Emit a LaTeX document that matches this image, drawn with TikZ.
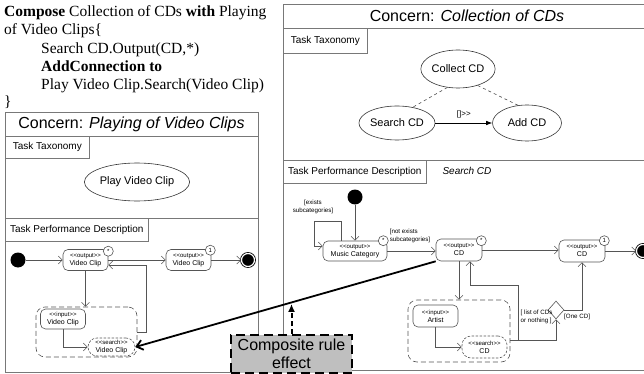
\documentclass[tikz,border=0pt]{standalone}
\usepackage{fontspec}
\setmainfont{Liberation Sans}
\newfontfamily\seriffam{Liberation Serif}
\usetikzlibrary{shapes.geometric,arrows.meta,calc}
\definecolor{framegray}{RGB}{120,120,120}
\definecolor{nodegray}{RGB}{85,85,85}
\newcommand{\stereo}[1]{{\fontsize{6}{6.5}\selectfont\textless\kern0pt\textless\kern0pt #1\kern0pt\textgreater\kern0pt\textgreater}}
\begin{document}
\begin{tikzpicture}[x=1pt,y=-1pt,
  frame/.style={draw=framegray, line width=0.7pt},
  tabbox/.style={draw=framegray, fill=white, line width=0.7pt, anchor=north west, inner sep=0pt, font=\fontsize{10}{12}\selectfont},
  act/.style={draw=nodegray, fill=white, rounded corners=5pt, minimum width=45pt, minimum height=21pt, inner sep=0pt, align=center, font=\fontsize{7}{8}\selectfont, line width=0.6pt},
  srch/.style={act, rounded corners=9pt, dash pattern=on 2.5pt off 1.5pt},
  grp/.style={draw=nodegray, dash pattern=on 5pt off 3pt, rounded corners=9pt, line width=0.6pt},
  badge/.style={circle, draw=nodegray, fill=white, minimum size=10pt, inner sep=0pt, font=\fontsize{6}{6}\selectfont, line width=0.6pt},
  flow/.style={draw=nodegray, line width=0.6pt, -{Straight Barb[length=4pt,width=8pt]}},
  initnode/.style={circle, fill=black, minimum size=15pt, inner sep=0pt},
  finalnode/.style={circle, draw=black, fill=black, minimum size=13pt, inner sep=0pt, line width=0.8pt, double=white, double distance=1.2pt},
  task/.style={ellipse, draw=black!80, line width=0.6pt, inner sep=0pt, font=\fontsize{11}{12}\selectfont},
  guard/.style={font=\fontsize{6.2}{7.5}\selectfont, inner sep=0pt, align=left},
  serifline/.style={anchor=base west, inner sep=0pt, font=\seriffam\fontsize{15.5}{18}\selectfont}
]
\useasboundingbox (0,0) rectangle (644,374);
\clip (0,0) rectangle (644,374);

% ---- top-left text
\node[serifline] (t1) at (4,17) {\textbf{Compose} Collection of CDs \textbf{with} Playing};
\node[serifline] (t2) at (4,35) {of Video Clips\{};
\node[serifline] (t3) at (41,54) {Search CD.Output(CD,*)};
\node[serifline] (t4) at (41,72) {\textbf{AddConnection to}};
\node[serifline] (t5) at (41,90) {Play Video Clip.Search(Video Clip)};
\node[serifline] (t6) at (4,107) {\}};

% ---- left frame
\draw[frame] (5,112) rectangle (258,372);
\draw[frame] (5,136) -- (258,136);
\draw[frame] (5,218) -- (258,218);
\node[font=\fontsize{16}{18}\selectfont] (lt) at (131.5,124) {Concern: \textit{Playing of Video Clips}};
\node[tabbox, minimum width=84pt, minimum height=22pt] (ltt) at (5,136) {Task Taxonomy};
\node[task, minimum width=95pt, minimum height=38pt] (pvc) at (137,182) {Play Video Clip};
\node[tabbox, minimum width=143pt, minimum height=23pt] (ltpd) at (5,218) {Task Performance Description};

\node[initnode] (i1) at (18,260) {};
\node[act] (lo1) at (85.5,260) {\stereo{output}\\Video Clip};
\node[act] (lo2) at (188.5,260) {\stereo{output}\\Video Clip};
\node[finalnode] (f1) at (248,260) {};
\node[grp, minimum width=101pt, minimum height=50pt] (lgrp) at (86.5,332) {};
\node[act, minimum height=20pt] (lin) at (63,319) {\stereo{input}\\Video Clip};
\node[srch, minimum width=47pt, minimum height=18pt] (lsr) at (111.5,347) {\stereo{search}\\Video Clip};

\draw[flow] (i1) -- (i1 -| lo1.west);
\draw[flow] (lo1.east) -- (lo2.west);
\draw[flow] (lo2.east) -- (f1);
\draw[flow] (lo1.south) -- (lo1.south |- lgrp.north);
\draw[flow] (lgrp.east) -- ++(9,0) |- ($(lo1.east)+(0,5)$);
\draw[flow] (lin.south) |- (lsr.west);
\node[badge] (lb1) at ($(lo1.north east)+(0,2)$) {*};
\node[badge] (lb2) at ($(lo2.north east)+(-1,1)$) {1};

% ---- right frame
\draw[frame] (283,4) rectangle (660,370);
\draw[frame] (283,28) -- (660,28);
\draw[frame] (283,160) -- (660,160);
\node[font=\fontsize{16}{18}\selectfont] (rt) at (467,16) {Concern: \textit{Collection of CDs}};
\node[tabbox, minimum width=84pt, minimum height=25pt] (rtt) at (283,28) {Task Taxonomy};
\node[task, minimum width=62pt, minimum height=38pt] (col) at (458,69) {Collect CD};
\node[task, minimum width=67pt, minimum height=34pt] (sea) at (397,123) {Search CD};
\node[task, minimum width=69pt, minimum height=36pt] (add) at (527,123) {Add CD};
\draw[draw=black!70, dashed, line width=0.6pt] (col.240) -- (sea.45);
\draw[draw=black!70, dashed, line width=0.6pt] (col.320) -- (add.117);
\draw[-{Latex[length=6pt,width=4.5pt]}, line width=0.6pt] (sea) -- node[above=1pt, font=\fontsize{8}{8}\selectfont] (ch) {[]>\kern0pt>} (add);

\node[tabbox, minimum width=143pt, minimum height=23pt] (rtpd) at (283,160) {Task Performance Description};
\node[anchor=west, font=\fontsize{10}{12}\selectfont\itshape] (scd) at (439,171) {Search CD};

\node[initnode] (i2) at (355,197) {};
\node[act, minimum width=64pt, minimum height=20pt] (mus) at (355,251) {\stereo{output}\\Music Category};
\node[act, minimum width=46pt, minimum height=22pt] (cd) at (459,250) {\stereo{output}\\CD};
\node[act, minimum width=46pt, minimum height=22pt] (cd2) at (582,251) {\stereo{output}\\CD};
\node[finalnode] (f2) at (643,251) {};
\node[grp, minimum width=102pt, minimum height=62pt] (rgrp) at (459,331) {};
\node[act, minimum width=45pt, minimum height=22pt] (art) at (435.5,316) {\stereo{input}\\Artist};
\node[srch, minimum width=45pt, minimum height=22pt] (rsr) at (484.5,347) {\stereo{search}\\CD};
\node[diamond, draw=nodegray, fill=white, minimum width=16pt, minimum height=18pt, inner sep=0pt, line width=0.6pt] (dia) at (556,310) {};

\draw[flow] (i2) -- (mus);
\draw[flow] ($(mus.north west)+(19,0)$) -- ++(0,-19) -- ++(-27,0) |- ($(mus.west)+(0,-5)$);
\node[guard, align=center] (g1) at (313,207) {[exists\\subcategories]};
\draw[flow] (mus.east) -- (mus.east -| cd.west);
\node[guard, align=left] (g2) at (410,236) {[not exists\\subcategories]};
\draw[flow] (cd.east) -- (cd.east -| cd2.west);
\draw[flow] (cd2.east) -- (f2);
\draw[flow] (cd.south) -- (cd.south |- rgrp.north);
\draw[flow] (art.south) |- (rsr.west);
\draw[flow] ($(rgrp.east)+(0,9)$) -| (dia.south);
\coordinate (jn) at ($(rgrp.east)+(8,9)$);
\draw[flow] (jn) -- ++(0,-55) -| ($(cd.south)+(11,0)$);
\draw[flow] (dia.east) -| (cd2.south);
\node[guard, anchor=west] (g3) at (520.5,317) {[ list of CDs\\or nothing ]};
\node[guard, anchor=west] (g4) at (564,317) {[One CD]};
\node[badge] (mb) at ($(mus.north east)+(-4,0)$) {*};
\node[badge] (cb) at ($(cd.north east)+(-1,2)$) {*};
\node[badge] (cb2) at ($(cd2.north east)+(-1,1)$) {1};

% ---- composite rule effect
\draw[line width=1.8pt, -{Straight Barb[length=6pt,width=10pt]}] (cd.south west) -- (lsr.east);
\node[fill=black!25, draw=black, line width=2pt, dash pattern=on 9pt off 5pt, minimum width=121pt, minimum height=38pt, align=center, font=\fontsize{16}{18}\selectfont, inner sep=0pt] (comp) at (291.5,354) {Composite rule\\effect};
\coordinate (hit) at ($(cd.south west)!0.48!(lsr.east)$);
\draw[line width=2pt, dash pattern=on 5pt off 3pt, -{Latex[length=8pt,width=7pt]}, shorten >=1.5pt] (comp.north) -- (comp.north |- hit);
\end{tikzpicture}
\end{document}
